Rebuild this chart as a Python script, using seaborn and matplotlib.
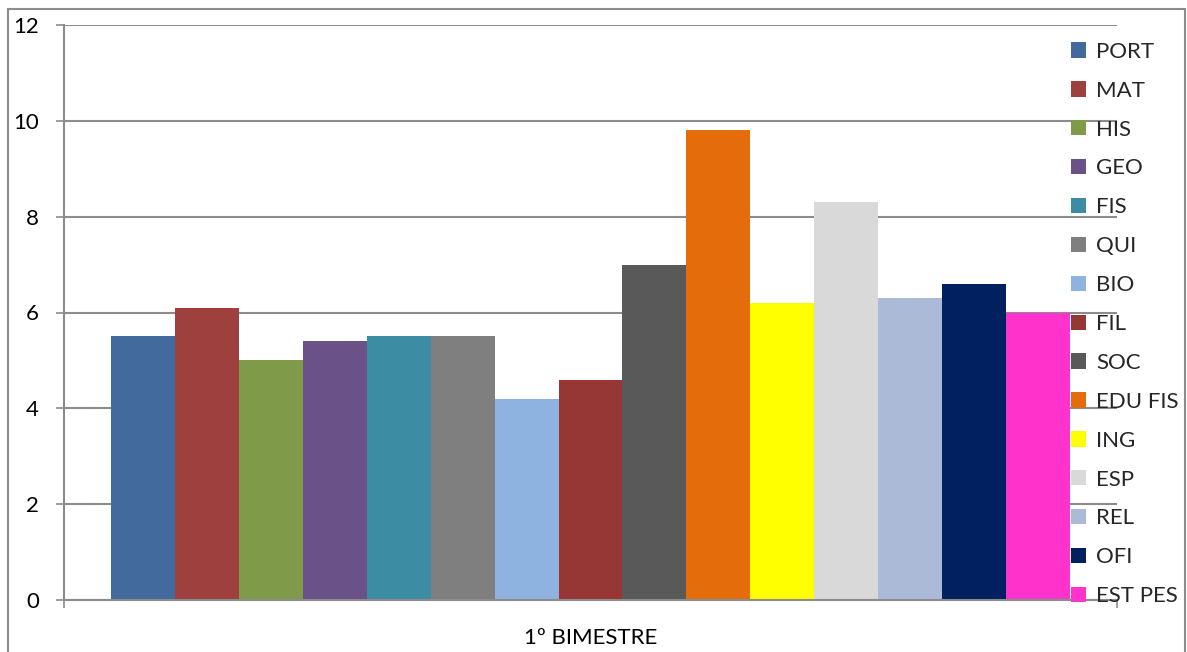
import matplotlib
matplotlib.use("Agg")
import matplotlib.pyplot as plt
import matplotlib.patches as mpatches
import seaborn as sns
import pandas as pd

periodos = ["1º BIMESTRE"]
disciplinas = ["PORT", "MAT", "HIS", "GEO", "FIS", "QUI", "BIO", "FIL",
               "SOC", "EDU FIS", "ING", "ESP", "REL", "OFI", "EST PES"]
notas = [5.5, 6.1, 5.0, 5.4, 5.5, 5.5, 4.2, 4.6,
         7.0, 9.8, 6.2, 8.3, 6.3, 6.6, 6.0]
cores = ["#426A9C", "#9E413E", "#7F9A48", "#6A5187", "#3C8CA3", "#7F7F7F",
         "#8EB3E0", "#963735", "#595959", "#E46C0A", "#FFFF00", "#D9D9D9",
         "#ABBAD7", "#002060", "#FF33CC"]
y_ticks = [0, 2, 4, 6, 8, 10, 12]

df = pd.DataFrame({
    "periodo": periodos * len(disciplinas),
    "disciplina": disciplinas,
    "nota": notas,
})

sns.set_theme(style="white")
plt.rcParams["font.family"] = ["Lato", "DejaVu Sans"]
fs = 16

fig = plt.figure(figsize=(11.87, 6.52), dpi=100)
ax = fig.add_axes([64 / 1187, 1 - 600 / 652, (1117 - 64) / 1187, (600 - 25) / 652])

sns.barplot(data=df, x="periodo", y="nota", hue="disciplina",
            palette=cores, hue_order=disciplinas, width=0.91, gap=0,
            saturation=1, linewidth=0, ax=ax)

grid_col = "#8C8C8C"
ax.set_xlim(-0.5, 0.5)
ax.set_ylim(0, 12)
ax.set_yticks(y_ticks)
ax.set_yticklabels([str(t) for t in y_ticks], fontsize=fs, color="black")
ax.yaxis.grid(True, color=grid_col, linewidth=1.5)
ax.set_axisbelow(True)
ax.set_xlabel("")
ax.set_ylabel("")
ax.tick_params(axis="x", length=0, labelsize=fs, labelcolor="black", pad=20)
ax.tick_params(axis="y", left=True, length=6, width=1.2, color=grid_col, pad=12)
ax.set_xticks([-0.5, 0.5], minor=True)
ax.tick_params(axis="x", which="minor", bottom=True, length=6, width=1.2, color=grid_col)

for side in ["top", "right"]:
    ax.spines[side].set_visible(False)
for side in ["left", "bottom"]:
    ax.spines[side].set_color(grid_col)
    ax.spines[side].set_linewidth(1.5)

leg = ax.get_legend()
if leg is not None:
    leg.remove()
handles = [mpatches.Patch(facecolor=c, edgecolor="none") for c in cores]
fig.legend(handles, disciplinas, loc="center left",
           bbox_to_anchor=(1071 / 1187, 1 - 324 / 652), frameon=False,
           fontsize=fs, handlelength=0.68, handleheight=0.68,
           handletextpad=0.45, labelspacing=0.85, borderpad=0, borderaxespad=0)

# outer frame of the chart area
frame = mpatches.Rectangle((8 / 1187, -0.02), (1185 - 8) / 1187, 1.02 - 9 / 652,
                           transform=fig.transFigure, fill=False,
                           edgecolor="#8C8C8C", linewidth=1.5)
fig.patches.append(frame)

fig.savefig("out.png", dpi=100)
